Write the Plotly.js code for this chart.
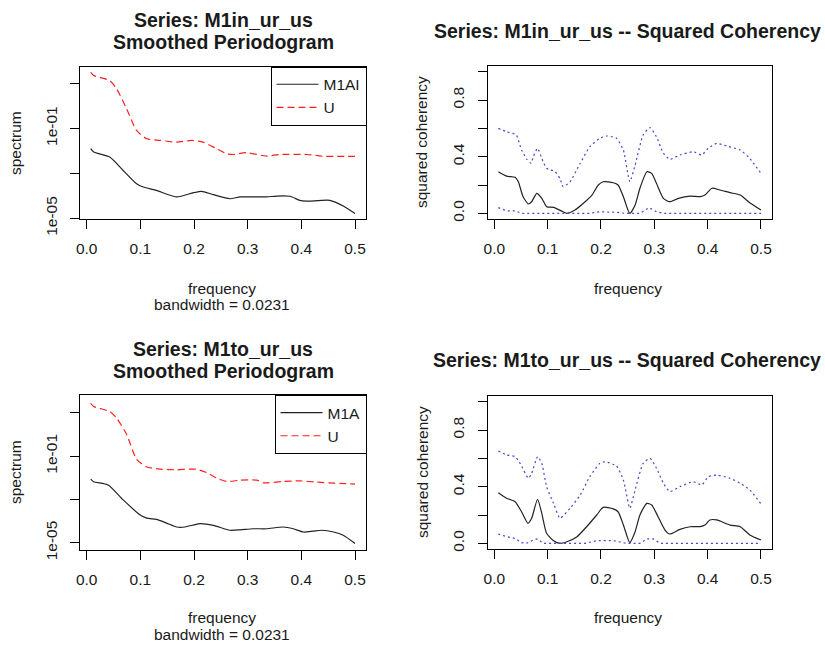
<!DOCTYPE html>
<html>
<head>
<meta charset="utf-8">
<script src="https://cdn.plot.ly/plotly-3.0.1.min.js"></script>
<style>html,body{margin:0;padding:0;background:#fff}#chart{width:825px;height:645px}</style>
</head>
<body>
<div id="chart"></div>
<script>
// ---------- DATA ----------
// Top-left: Series M1in_ur_us smoothed periodogram (log10 of spectrum)
const tlFreqM1AI = [0.0075,0.013,0.043,0.068,0.093,0.1055,0.130,0.168,0.199,0.214,0.236,0.267,0.286,0.335,0.354,0.379,0.397,0.409,0.453,0.478,0.5];
const tlLogM1AI  = [-1.9,-2.05,-2.27,-2.87,-3.46,-3.61,-3.76,-4.05,-3.86,-3.8,-3.95,-4.13,-4.05,-4.05,-4.01,-4.02,-4.2,-4.24,-4.2,-4.45,-4.79];
const tlFreqU    = [0.0075,0.013,0.043,0.056,0.0745,0.093,0.112,0.137,0.168,0.196,0.217,0.242,0.261,0.273,0.298,0.335,0.36,0.41,0.441,0.5];
const tlLogU     = [1.5,1.36,1.13,0.76,-0.13,-1.09,-1.46,-1.53,-1.61,-1.53,-1.61,-1.9,-2.13,-2.16,-2.08,-2.23,-2.16,-2.16,-2.24,-2.24];

// Bottom-left: Series M1to_ur_us smoothed periodogram (log10 of spectrum)
const blFreqM1A  = [0.0075,0.013,0.040,0.068,0.099,0.112,0.130,0.149,0.168,0.183,0.211,0.236,0.267,0.286,0.31,0.335,0.366,0.385,0.404,0.422,0.438,0.46,0.478,0.5];
const blLogM1A   = [-2.06,-2.18,-2.33,-3.02,-3.7,-3.86,-3.92,-4.09,-4.27,-4.27,-4.11,-4.19,-4.42,-4.4,-4.35,-4.35,-4.27,-4.35,-4.5,-4.46,-4.42,-4.5,-4.65,-5.03];
const blFreqU    = [0.0075,0.013,0.043,0.056,0.0745,0.093,0.112,0.137,0.168,0.203,0.224,0.242,0.261,0.286,0.317,0.329,0.366,0.397,0.429,0.5];
const blLogU     = [1.44,1.29,1.06,0.75,0.0,-1.15,-1.5,-1.6,-1.63,-1.6,-1.76,-2.01,-2.17,-2.11,-2.11,-2.23,-2.17,-2.14,-2.2,-2.29];

// Top-right: M1in_ur_us squared coherency with confidence bounds
const trFreqCoh  = [0.0075,0.023,0.039,0.045,0.054,0.064,0.070,0.0795,0.089,0.098,0.111,0.129,0.136,0.151,0.167,0.183,0.195,0.204,0.223,0.232,0.242,0.254,0.264,0.273,0.286,0.295,0.304,0.317,0.329,0.345,0.367,0.386,0.395,0.408,0.423,0.442,0.461,0.479,0.5];
const trCoh      = [0.294,0.263,0.254,0.223,0.117,0.066,0.082,0.141,0.106,0.047,0.042,0.011,0.0,0.023,0.071,0.129,0.2,0.223,0.216,0.2,0.117,0.0,0.059,0.177,0.294,0.282,0.212,0.106,0.082,0.106,0.122,0.118,0.129,0.177,0.165,0.146,0.129,0.075,0.023];
const trFreqUp   = [0.0075,0.023,0.041,0.051,0.061,0.069,0.073,0.081,0.089,0.098,0.114,0.123,0.129,0.142,0.161,0.179,0.198,0.211,0.229,0.242,0.254,0.264,0.279,0.292,0.304,0.317,0.329,0.348,0.373,0.389,0.401,0.417,0.436,0.461,0.479,0.5];
const trUp       = [0.6,0.576,0.554,0.447,0.381,0.353,0.4,0.459,0.388,0.318,0.294,0.247,0.188,0.223,0.353,0.47,0.53,0.546,0.53,0.447,0.223,0.341,0.554,0.605,0.541,0.424,0.381,0.412,0.435,0.412,0.459,0.494,0.475,0.447,0.388,0.282];
const trFreqLo   = [0.0075,0.023,0.039,0.051,0.179,0.198,0.229,0.245,0.273,0.29,0.304,0.317,0.5];
const trLo       = [0.04,0.018,0.018,0.0,0.0,0.011,0.007,0.0,0.0,0.04,0.011,0.0,0.0];

// Bottom-right: M1to_ur_us squared coherency with confidence bounds
const brFreqCoh  = [0.0075,0.023,0.039,0.051,0.063,0.070,0.081,0.089,0.098,0.111,0.123,0.136,0.155,0.173,0.192,0.204,0.223,0.232,0.242,0.254,0.264,0.273,0.286,0.295,0.307,0.320,0.329,0.348,0.367,0.386,0.395,0.404,0.417,0.442,0.461,0.479,0.5];
const brCoh      = [0.357,0.318,0.294,0.223,0.141,0.177,0.311,0.212,0.071,0.019,0.0,0.011,0.047,0.117,0.2,0.254,0.243,0.223,0.13,0.005,0.082,0.2,0.282,0.271,0.188,0.094,0.066,0.099,0.117,0.118,0.129,0.165,0.165,0.129,0.117,0.059,0.023];
const brFreqUp   = [0.0075,0.023,0.039,0.049,0.064,0.070,0.081,0.089,0.098,0.111,0.123,0.142,0.161,0.179,0.198,0.208,0.229,0.242,0.254,0.264,0.279,0.292,0.304,0.317,0.329,0.348,0.373,0.389,0.401,0.417,0.442,0.461,0.479,0.5];
const brUp       = [0.652,0.624,0.612,0.56,0.459,0.494,0.612,0.565,0.4,0.282,0.177,0.247,0.341,0.47,0.565,0.576,0.546,0.447,0.247,0.377,0.565,0.6,0.53,0.424,0.365,0.4,0.435,0.412,0.47,0.482,0.459,0.424,0.377,0.278];
const brFreqLo   = [0.0075,0.023,0.039,0.051,0.06,0.073,0.081,0.092,0.17,0.192,0.223,0.248,0.273,0.286,0.298,0.311,0.5];
const brLo       = [0.066,0.047,0.035,0.005,0.0,0.023,0.031,0.0,0.0,0.019,0.019,0.0,0.0,0.031,0.031,0.0,0.0];

const freqTickVals = [0,0.1,0.2,0.3,0.4,0.5];
const freqTickText = ['0.0','0.1','0.2','0.3','0.4','0.5'];
const specTickVals = [1e-5,1e-3,1e-1,1e1];
const specTickText = ['1e-05','','1e-01',''];
const cohTickVals  = [0,0.2,0.4,0.6,0.8,1.0];
const cohTickText  = ['0.0','','0.4','','0.8',''];

// ---------- HELPERS ----------
const W = 825, H = 645;
const toPow = a => a.map(v => Math.pow(10, v));
const px = x => x / W;
const py = y => 1 - y / H;
const FONT = 'Liberation Sans, Arial, sans-serif';
const TXT = '#1a1a1a';

const blackLine = {color:'#222', width:1.2, shape:'spline', smoothing:0.6};
const redLine   = {color:'#ff2020', width:1.2, dash:'7px,4px', shape:'spline', smoothing:0.6};
const blueLine  = {color:'#4646c8', width:1.2, dash:'2px,3px', shape:'spline', smoothing:0.5};
const blueLo    = {color:'#4646c8', width:1.2, dash:'2px,3px'};

const traces = [
  {x:tlFreqM1AI, y:toPow(tlLogM1AI), xaxis:'x', yaxis:'y', type:'scatter', mode:'lines', line:blackLine, name:'M1AI', legend:'legend'},
  {x:tlFreqU, y:toPow(tlLogU), xaxis:'x', yaxis:'y', type:'scatter', mode:'lines', line:redLine, name:'U', legend:'legend'},
  {x:trFreqCoh, y:trCoh, xaxis:'x2', yaxis:'y2', type:'scatter', mode:'lines', line:blackLine, showlegend:false},
  {x:trFreqUp, y:trUp, xaxis:'x2', yaxis:'y2', type:'scatter', mode:'lines', line:blueLine, showlegend:false},
  {x:trFreqLo, y:trLo, xaxis:'x2', yaxis:'y2', type:'scatter', mode:'lines', line:blueLo, showlegend:false},
  {x:blFreqM1A, y:toPow(blLogM1A), xaxis:'x3', yaxis:'y3', type:'scatter', mode:'lines', line:blackLine, name:'M1A', legend:'legend2'},
  {x:blFreqU, y:toPow(blLogU), xaxis:'x3', yaxis:'y3', type:'scatter', mode:'lines', line:redLine, name:'U', legend:'legend2'},
  {x:brFreqCoh, y:brCoh, xaxis:'x4', yaxis:'y4', type:'scatter', mode:'lines', line:blackLine, showlegend:false},
  {x:brFreqUp, y:brUp, xaxis:'x4', yaxis:'y4', type:'scatter', mode:'lines', line:blueLine, showlegend:false},
  {x:brFreqLo, y:brLo, xaxis:'x4', yaxis:'y4', type:'scatter', mode:'lines', line:blueLo, showlegend:false}
];

function xax(l, r, anchor) {
  return {domain:[px(l), px(r)], anchor:anchor, range:[-0.0128, 0.5197],
    tickvals:freqTickVals, ticktext:freqTickText, ticks:'outside', ticklen:9, tickcolor:'#000',
    showline:true, mirror:true, linecolor:'#000', linewidth:1, showgrid:false, zeroline:false,
    tickfont:{family:FONT, size:15.5, color:TXT}, ticklabelstandoff:6, fixedrange:true};
}
function yax(t, b, anchor, extra) {
  return Object.assign({domain:[py(b), py(t)], anchor:anchor, ticks:'outside', ticklen:9, tickcolor:'#000',
    showline:true, mirror:true, linecolor:'#000', linewidth:1, showgrid:false, zeroline:false,
    tickangle:-90, tickfont:{family:FONT, size:15.5, color:TXT}, ticklabelstandoff:7, fixedrange:true}, extra);
}

const ann = (text, x, y, size, bold, angle) => ({text:text, x:px(x), y:py(y), xref:'paper', yref:'paper',
  xanchor:'center', yanchor:'middle', showarrow:false, textangle:angle||0,
  font:{family:FONT, size:size, color:TXT, weight: bold ? 'bold' : 'normal'}});

const legendStyle = y => ({x:px(366.5), y:py(y), xanchor:'right', yanchor:'top', bgcolor:'#fff', bordercolor:'#000', borderwidth:1,
  font:{family:FONT, size:15.5, color:TXT}, itemwidth:42, entrywidth:60, itemclick:false, itemdoubleclick:false});

const layout = {
  width:W, height:H, margin:{l:0, r:0, t:0, b:0}, paper_bgcolor:'#fff', plot_bgcolor:'#fff',
  font:{family:FONT, color:TXT},
  xaxis:  xax(79.8, 365.6, 'y'),
  yaxis:  yax(66.7, 219.4, 'x', {type:'log', range:[-5.05, 1.75], tickvals:specTickVals, ticktext:specTickText}),
  xaxis2: xax(487.5, 771.5, 'y2'),
  yaxis2: yax(66, 219, 'x2', {range:[-0.04, 1.04], tickvals:cohTickVals, ticktext:cohTickText}),
  xaxis3: xax(79.8, 365.6, 'y3'),
  yaxis3: yax(395, 550, 'x3', {type:'log', range:[-5.33, 1.82], tickvals:specTickVals, ticktext:specTickText}),
  xaxis4: xax(487.5, 771.5, 'y4'),
  yaxis4: yax(396, 549, 'x4', {range:[-0.04, 1.04], tickvals:cohTickVals, ticktext:cohTickText}),
  legend:  legendStyle(66.7),
  legend2: legendStyle(395),
  annotations: [
    ann('Series: M1in_ur_us', 223, 20, 19.5, true),
    ann('Smoothed Periodogram', 223, 42, 19.5, true),
    ann('Series: M1in_ur_us -- Squared Coherency', 627, 31, 19.5, true),
    ann('spectrum', 15, 143, 15.5, false, -90),
    ann('squared coherency', 422, 142, 15.5, false, -90),
    ann('frequency', 222, 288, 15.5, false),
    ann('bandwidth = 0.0231', 222, 305, 15.5, false),
    ann('frequency', 628, 288, 15.5, false),
    ann('Series: M1to_ur_us', 223, 349, 19.5, true),
    ann('Smoothed Periodogram', 223, 371, 19.5, true),
    ann('Series: M1to_ur_us -- Squared Coherency', 627, 360, 19.5, true),
    ann('spectrum', 15, 472, 15.5, false, -90),
    ann('squared coherency', 422, 472, 15.5, false, -90),
    ann('frequency', 222, 617, 15.5, false),
    ann('bandwidth = 0.0231', 222, 634, 15.5, false),
    ann('frequency', 628, 617, 15.5, false)
  ]
};

Plotly.newPlot('chart', traces, layout, {displayModeBar:false, staticPlot:true});
</script>
</body>
</html>
